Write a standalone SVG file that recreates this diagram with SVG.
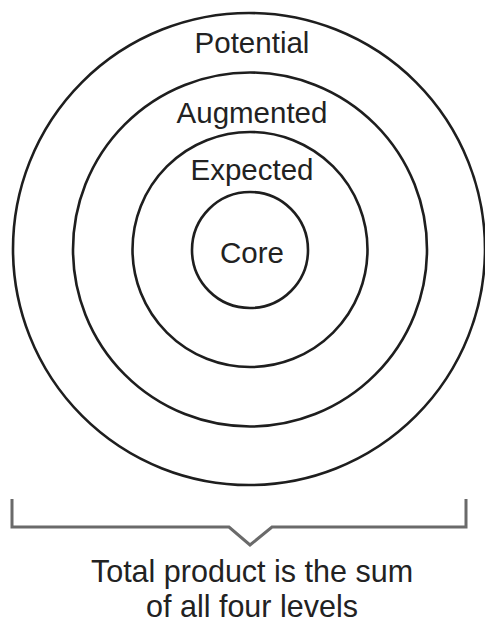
<svg xmlns="http://www.w3.org/2000/svg" width="485" height="623" viewBox="0 0 485 623">
  <style>
    .ring { fill: none; stroke: #1e1e1e; stroke-width: 2.6; }
    .lbl { font-family: "Liberation Sans", Arial, sans-serif; font-size: 29.5px; fill: #222; text-anchor: middle; }
    .cap { font-size: 30.5px; }
    .brk { fill: none; stroke: #6a6a6a; stroke-width: 3; stroke-linejoin: miter; }
  </style>
  <rect width="485" height="623" fill="#ffffff"/>
  <g id="potential">
    <circle class="ring" cx="249" cy="249" r="236"/>
    <text class="lbl" x="252" y="53">Potential</text>
  </g>
  <g id="augmented">
    <circle class="ring" cx="250" cy="249.5" r="177"/>
    <text class="lbl" x="252" y="123">Augmented</text>
  </g>
  <g id="expected">
    <circle class="ring" cx="250" cy="249.5" r="117.5"/>
    <text class="lbl" x="252" y="180">Expected</text>
  </g>
  <g id="core">
    <circle class="ring" cx="250" cy="250" r="58"/>
    <text class="lbl" x="252" y="263">Core</text>
  </g>
  <g id="connectors">
    <path class="brk" d="M12,499 V527 H229 L250,545 L272,527 H466 V499"/>
  </g>
  <g id="caption">
    <text class="lbl cap" x="252" y="582">Total product is the sum</text>
    <text class="lbl cap" x="252" y="617">of all four levels</text>
  </g>
</svg>
